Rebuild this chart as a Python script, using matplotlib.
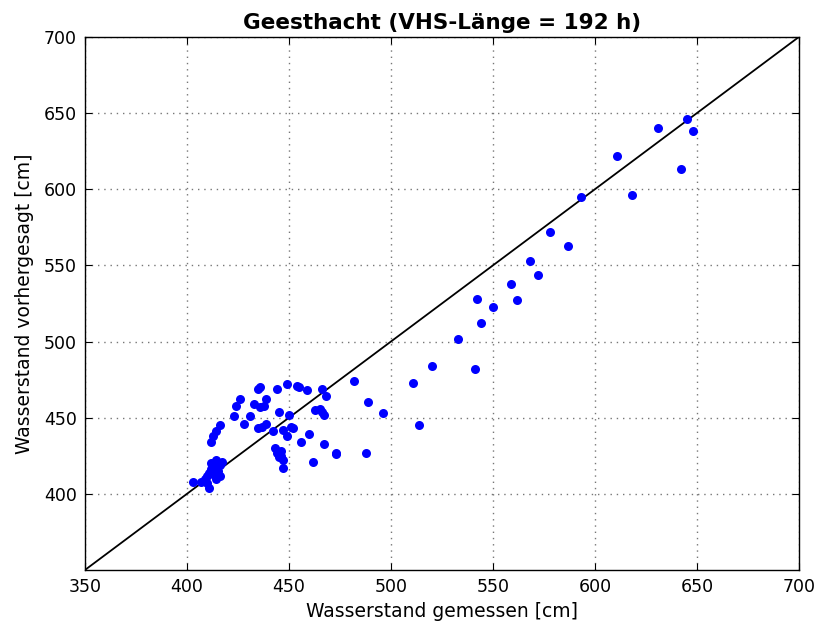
import matplotlib
matplotlib.use("Agg")
from matplotlib import pyplot as plt

# gemessen (x) / vorhergesagt (y), in cm
measured = [
	645, 648, 631, 611, 642, 618, 593, 578, 587, 568, 572, 559, 542, 562,
	550, 544, 533, 520, 541, 511, 514, 496, 489, 482, 488, 473,
	403, 407, 409, 410, 411, 411, 412, 412, 413, 414, 415, 416, 417, 413,
	414, 416, 410, 412, 413, 414, 416,
	423, 424, 426, 428, 431, 433, 435, 436, 436, 438, 439, 435, 437, 439,
	442, 444, 445, 443, 444, 445, 446, 447, 446, 447, 447, 449, 450, 449,
	451, 452, 454, 455, 459, 456, 460, 462, 463, 465, 466, 467, 466, 468,
	467, 473,
]
predicted = [
	646, 638, 640, 622, 613, 596, 595, 572, 563, 553, 544, 538, 528, 527,
	523, 512, 502, 484, 482, 473, 445, 453, 460, 474, 427, 426,
	408, 408, 410, 412, 404, 414, 416, 420, 418, 422, 415, 419, 421, 413,
	410, 412, 407, 434, 438, 441, 445,
	451, 458, 462, 446, 451, 459, 469, 470, 457, 458, 462, 443, 444, 446,
	441, 469, 454, 430, 427, 424, 428, 417, 425, 442, 422, 438, 452, 472,
	444, 443, 471, 470, 468, 434, 439, 421, 455, 456, 454, 452, 469, 464,
	433, 427,
]

x_ticks = [350, 400, 450, 500, 550, 600, 650, 700]
y_ticks = [400, 450, 500, 550, 600, 650, 700]

plt.rcParams["font.family"] = ["DejaVu Sans"]

fig = plt.figure(figsize=(8.21, 6.28), dpi=100)
ax = fig.add_axes([0.1035, 0.0924, 0.8695, 0.8487])

ax.plot(measured, predicted, "o", color="#0000ff", markersize=6.5, markeredgewidth=0, zorder=3)
ax.plot([350, 700], [350, 700], color="black", linewidth=1.3, zorder=2)

ax.set_xlim(350, 700)
ax.set_ylim(350, 700)
ax.set_xticks(x_ticks)
ax.set_yticks(y_ticks)
ax.grid(True, color="#777777", linestyle=(0, (1, 3.5)), linewidth=1.0)
ax.tick_params(direction="in", top=True, right=True, length=5, labelsize=12.5, pad=6)
for spine in ax.spines.values():
	spine.set_linewidth(1.0)

ax.set_xlabel("Wasserstand gemessen [cm]", fontsize=13.5)
ax.set_ylabel("Wasserstand vorhergesagt [cm]", fontsize=13.5, labelpad=7)
ax.set_title("Geesthacht (VHS-Länge = 192 h)", fontsize=15.5, fontweight="bold", pad=6)

fig.savefig("out.png", dpi=100)
plt.close(fig)
